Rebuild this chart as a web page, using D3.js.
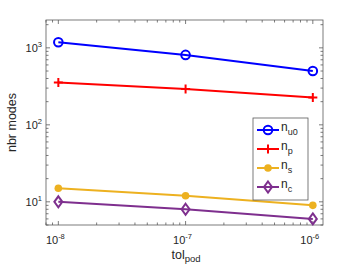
<!DOCTYPE html>
<html>
<head>
<meta charset="utf-8">
<script src="https://cdn.jsdelivr.net/npm/d3@7"></script>
<style>
  body { margin: 0; background: #fff; }
  text { font-family: "Liberation Sans", Arial, sans-serif; fill: #262626; }
</style>
</head>
<body>
<div id="chart"></div>
<script>
// data
var tolValues = [1e-8, 1e-7, 1e-6];
var nU0 = [1180, 810, 500];
var nP = [355, 293, 226];
var nS = [15, 12, 9];
var nC = [10, 8, 6];
var seriesNames = ["u0", "p", "s", "c"];
var xTickExp = [-8, -7, -6];
var yTickExp = [1, 2, 3];

var width = 357, height = 268;
var plotLeft = 46, plotRight = 323, plotTop = 20, plotBottom = 225;

var svg = d3.select("#chart").append("svg").attr("width", width).attr("height", height);

var xScale = d3.scaleLog().domain([Math.pow(10, -8.097), Math.pow(10, -5.92)]).range([plotLeft, plotRight]);
var yScale = d3.scaleLog().domain([5, 2300]).range([plotBottom, plotTop]);

var axisColor = "#5a5a5a";

// box
svg.append("rect")
  .attr("x", plotLeft).attr("y", plotTop)
  .attr("width", plotRight - plotLeft).attr("height", plotBottom - plotTop)
  .attr("fill", "none").attr("stroke", axisColor).attr("stroke-width", 0.8);

// ticks (inside, on both sides)
var ticks = svg.append("g").attr("stroke", axisColor).attr("stroke-width", 0.8);
var xMinor = [];
for (var e = -9; e <= -6; e++) {
  for (var m = 1; m <= 9; m++) {
    var v = m * Math.pow(10, e);
    if (v >= xScale.domain()[0] && v <= xScale.domain()[1]) xMinor.push({ v: v, major: m == 1 });
  }
}
xMinor.forEach(function (t) {
  var x = xScale(t.v), len = t.major ? 4 : 2.5;
  ticks.append("line").attr("x1", x).attr("x2", x).attr("y1", plotBottom).attr("y2", plotBottom - len);
  ticks.append("line").attr("x1", x).attr("x2", x).attr("y1", plotTop).attr("y2", plotTop + len);
});
var yMinor = [];
for (var e2 = 0; e2 <= 3; e2++) {
  for (var m2 = 1; m2 <= 9; m2++) {
    var v2 = m2 * Math.pow(10, e2);
    if (v2 >= yScale.domain()[0] && v2 <= yScale.domain()[1]) yMinor.push({ v: v2, major: m2 == 1 });
  }
}
yMinor.forEach(function (t) {
  var y = yScale(t.v), len = t.major ? 4 : 2.5;
  ticks.append("line").attr("x1", plotLeft).attr("x2", plotLeft + len).attr("y1", y).attr("y2", y);
  ticks.append("line").attr("x1", plotRight).attr("x2", plotRight - len).attr("y1", y).attr("y2", y);
});

// tick labels
xTickExp.forEach(function (p) {
  var t = svg.append("text")
    .attr("x", xScale(Math.pow(10, p)) - 3).attr("y", 244)
    .attr("text-anchor", "middle").attr("font-size", "11px");
  t.append("tspan").text("10");
  t.append("tspan").attr("dy", -5).attr("font-size", "7.5px").text(p);
});
yTickExp.forEach(function (p) {
  var t = svg.append("text")
    .attr("x", 42).attr("y", yScale(Math.pow(10, p)) + 4)
    .attr("text-anchor", "end").attr("font-size", "11px");
  t.append("tspan").text("10");
  t.append("tspan").attr("dy", -5).attr("font-size", "7.5px").text(p);
});

// axis labels
svg.append("text")
  .attr("transform", "translate(16," + ((plotTop + plotBottom) / 2) + ") rotate(-90)")
  .attr("text-anchor", "middle").attr("font-size", "12.5px")
  .text("nbr modes");
var xl = svg.append("text")
  .attr("x", 186).attr("y", 259).attr("text-anchor", "middle").attr("font-size", "12.5px");
xl.append("tspan").text("tol");
xl.append("tspan").attr("dy", 3).attr("font-size", "9.5px").text("pod");

// series
var series = [
  { name: seriesNames[0], values: nU0, color: "#0000ff", marker: "circle" },
  { name: seriesNames[1], values: nP, color: "#ff0000", marker: "plus" },
  { name: seriesNames[2], values: nS, color: "#EDB120", marker: "dot" },
  { name: seriesNames[3], values: nC, color: "#7E2F8E", marker: "diamond" }
];

function drawMarker(g, kind, x, y, color) {
  if (kind == "circle") {
    g.append("circle").attr("cx", x).attr("cy", y).attr("r", 4.3)
      .attr("fill", "none").attr("stroke", color).attr("stroke-width", 2);
  } else if (kind == "plus") {
    g.append("path").attr("d", "M" + (x - 4.5) + "," + y + "H" + (x + 4.5) + "M" + x + "," + (y - 4.5) + "V" + (y + 4.5))
      .attr("stroke", color).attr("stroke-width", 2);
  } else if (kind == "dot") {
    g.append("circle").attr("cx", x).attr("cy", y).attr("r", 3.8).attr("fill", color);
  } else {
    g.append("path").attr("d", "M" + x + "," + (y - 5.5) + "L" + (x + 4) + "," + y + "L" + x + "," + (y + 5.5) + "L" + (x - 4) + "," + y + "Z")
      .attr("fill", "none").attr("stroke", color).attr("stroke-width", 2);
  }
}

var line = d3.line().x(function (d, i) { return xScale(tolValues[i]); }).y(function (d) { return yScale(d); });

series.forEach(function (s) {
  var g = svg.append("g");
  g.append("path").datum(s.values).attr("d", line)
    .attr("fill", "none").attr("stroke", s.color).attr("stroke-width", 2);
  s.values.forEach(function (v, i) {
    drawMarker(g, s.marker, xScale(tolValues[i]), yScale(v), s.color);
  });
});

// legend
var lx = 253, ly = 118, lw = 55, lh = 82;
svg.append("rect").attr("x", lx).attr("y", ly).attr("width", lw).attr("height", lh)
  .attr("fill", "#fff").attr("stroke", "#5a5a5a").attr("stroke-width", 0.8);
series.forEach(function (s, i) {
  var y = ly + 12 + i * 19;
  var g = svg.append("g");
  g.append("line").attr("x1", lx + 4).attr("x2", lx + 26).attr("y1", y).attr("y2", y)
    .attr("stroke", s.color).attr("stroke-width", 2);
  drawMarker(g, s.marker, lx + 15, y, s.color);
  var t = svg.append("text").attr("x", lx + 28).attr("y", y + 1).attr("font-size", "12px");
  t.append("tspan").text("n");
  t.append("tspan").attr("dy", 4).attr("font-size", "9px").text(s.name);
});
</script>
</body>
</html>
